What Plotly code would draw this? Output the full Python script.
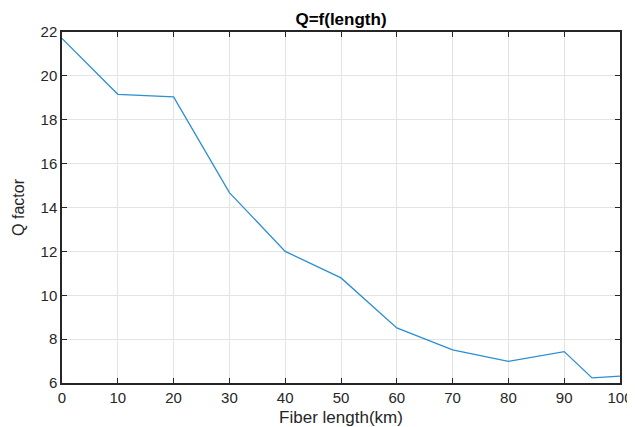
import plotly.graph_objects as go

fiber_length_km = [0, 10, 20, 30, 40, 50, 60, 70, 80, 90, 95, 100]
q_factor = [21.71, 19.16, 19.04, 14.68, 12.0, 10.79, 8.51, 7.51, 6.99, 7.43, 6.23, 6.31]
x_ticks = [0, 10, 20, 30, 40, 50, 60, 70, 80, 90, 100]
y_ticks = [6, 8, 10, 12, 14, 16, 18, 20, 22]

fig = go.Figure()
fig.add_trace(go.Scatter(x=fiber_length_km, y=q_factor, mode="lines",
                         line=dict(color="#2b8fd3", width=1.3), showlegend=False))

font = "Liberation Sans, Arial, sans-serif"
axis_common = dict(showgrid=True, gridcolor="#e3e3e3", gridwidth=1,
                   showline=True, linecolor="#262626", linewidth=1.5, mirror="ticks",
                   ticks="inside", ticklen=5, tickcolor="#262626", tickwidth=1,
                   zeroline=False, automargin=False,
                   tickfont=dict(family=font, size=15, color="#262626"))

W, H = 627, 419
fig.update_layout(
    width=W, height=H,
    margin=dict(l=54, r=15, t=24, b=44),
    paper_bgcolor="white", plot_bgcolor="white",
    title=dict(text="<b>Q=f(length)</b>", x=0.5, xanchor="center", xref="paper",
               y=1 - 11/H, yanchor="middle", yref="container", automargin=False,
               font=dict(family=font, size=17, color="#000")),
    xaxis=dict(range=[0, 100], tickvals=x_ticks,
               title=dict(text="Fiber length(km)", standoff=7,
                          font=dict(family=font, size=17, color="#262626")),
               **axis_common),
    yaxis=dict(range=[6, 22], tickvals=y_ticks,
               title=dict(text="Q factor", standoff=12,
                          font=dict(family=font, size=16, color="#262626")),
               **axis_common),
)
fig.write_html("out.html")
